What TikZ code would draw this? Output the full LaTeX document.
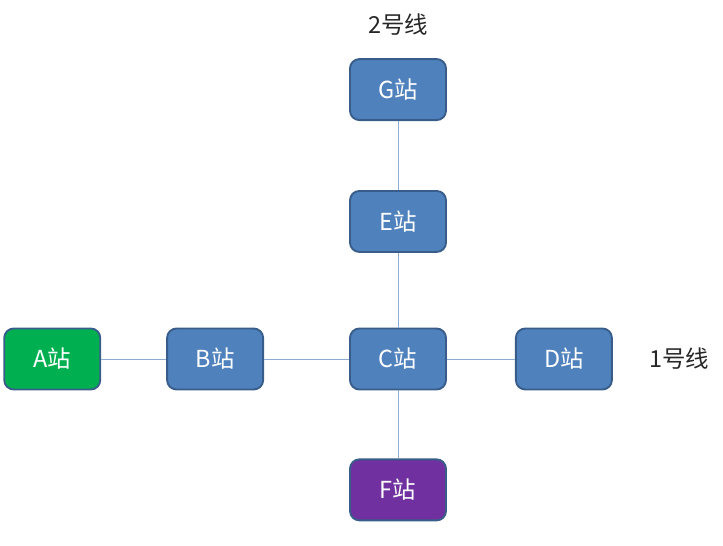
\documentclass[tikz,border=0pt]{standalone}
\usepackage{fontspec}
\setmainfont{Noto Sans CJK SC}
\definecolor{stblue}{RGB}{79,129,189}
\definecolor{stborder}{RGB}{56,93,138}
\definecolor{stgreen}{RGB}{0,176,80}
\definecolor{stpurple}{RGB}{112,48,160}
\definecolor{stline}{RGB}{140,172,212}
\usetikzlibrary{positioning}
\tikzset{
  station/.style={rectangle,rounded corners=8pt,draw=stborder,line width=1.6pt,
    fill=#1,minimum width=2.88cm,minimum height=1.83cm,
    font=\fontsize{20}{22}\selectfont,text=white},
  station/.default=stblue,
  track/.style={draw=stline,line width=0.7pt},
  lbl/.style={font=\fontsize{20}{22}\selectfont,text=black!85},
}

\begin{document}
\begin{tikzpicture}
  \useasboundingbox (-11.94,-5.61) rectangle (9.75,10.77);
  \node[station] (c) at (0,0) {C站};
  \node[station,above=2.24cm of c] (e) {E站};
  \node[station,above=2.07cm of e] (g) {G站};
  \node[station=stpurple,below=2.04cm of c] (f) {F站};
  \node[station,left=2.55cm of c] (b) {B站};
  \node[station=stgreen,left=1.95cm of b] (a) {A站};
  \node[station,right=2.04cm of c] (d) {D站};

  \node[lbl,yshift=1.0cm] (l2) at (g.north) {2号线};
  \node[lbl,xshift=2.0cm] (l1) at (d.east) {1号线};

  \draw[track] (a) -- (b);
  \draw[track] (b) -- (c);
  \draw[track] (c) -- (d);
  \draw[track] (g) -- (e);
  \draw[track] (e) -- (c);
  \draw[track] (c) -- (f);
\end{tikzpicture}
\end{document}
